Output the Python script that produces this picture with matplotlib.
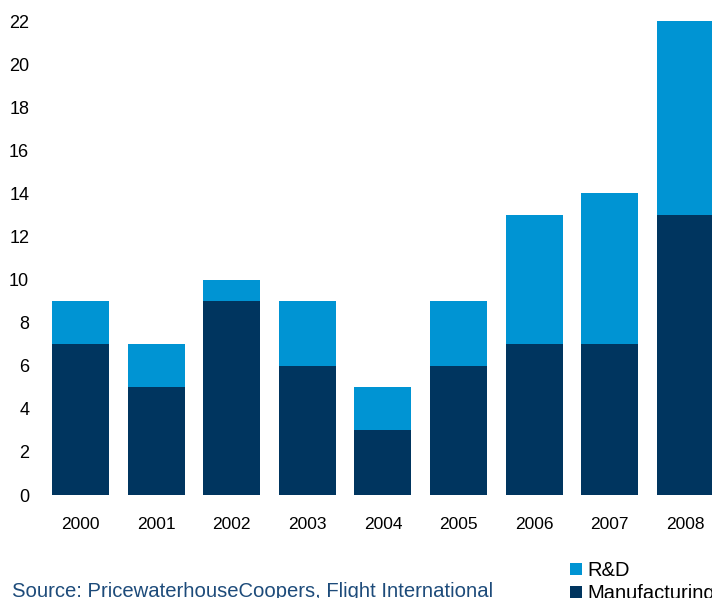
import numpy as np
import matplotlib.pyplot as plt

years = ['2000', '2001', '2002', '2003', '2004', '2005', '2006', '2007', '2008']
manufacturing = [7, 5, 9, 6, 3, 6, 7, 7, 13]
rnd = [2, 2, 1, 3, 2, 3, 6, 7, 9]

navy = '#00355F'
blue = '#0094D3'

plt.rcParams['font.family'] = ['Liberation Sans Narrow', 'Liberation Sans', 'DejaVu Sans']

fig = plt.figure(figsize=(7.12, 5.98), dpi=100)
ax = fig.add_axes([0, (598 - 495) / 598, 1, (495 - 21) / 598])

x = np.arange(len(years))
b1 = ax.bar(x, manufacturing, width=0.754, color=navy, label='Manufacturing')
b2 = ax.bar(x, rnd, width=0.754, bottom=manufacturing, color=blue, label='R&D')

ax.set_xlim(-80.5 / 75.6, (712 - 80.5) / 75.6)
ax.set_ylim(0, 22)
ax.set_yticks(range(0, 23, 2))
ax.set_xticks(x)
ax.set_xticklabels(years)
for s in ax.spines.values():
    s.set_visible(False)
ax.tick_params(axis='y', length=0, pad=-21, labelsize=13)
ax.tick_params(axis='x', length=0, pad=16, labelsize=12.5)

leg = fig.legend([b2, b1], ['R&D', 'Manufacturing'], loc='upper left',
                 bbox_to_anchor=(570 / 712, 1 - 561 / 598), frameon=False,
                 handlelength=0.6, handleheight=0.6, handletextpad=0.25,
                 labelspacing=0.2, borderpad=0, borderaxespad=0,
                 prop={'family': 'Liberation Sans', 'size': 14.5})

fig.text(12 / 712, 1 - 597 / 598, 'Source: PricewaterhouseCoopers, Flight International',
         color='#1D4B7A', fontsize=14.6, family='Liberation Sans', va='baseline')

fig.savefig('out.png', dpi=100)
